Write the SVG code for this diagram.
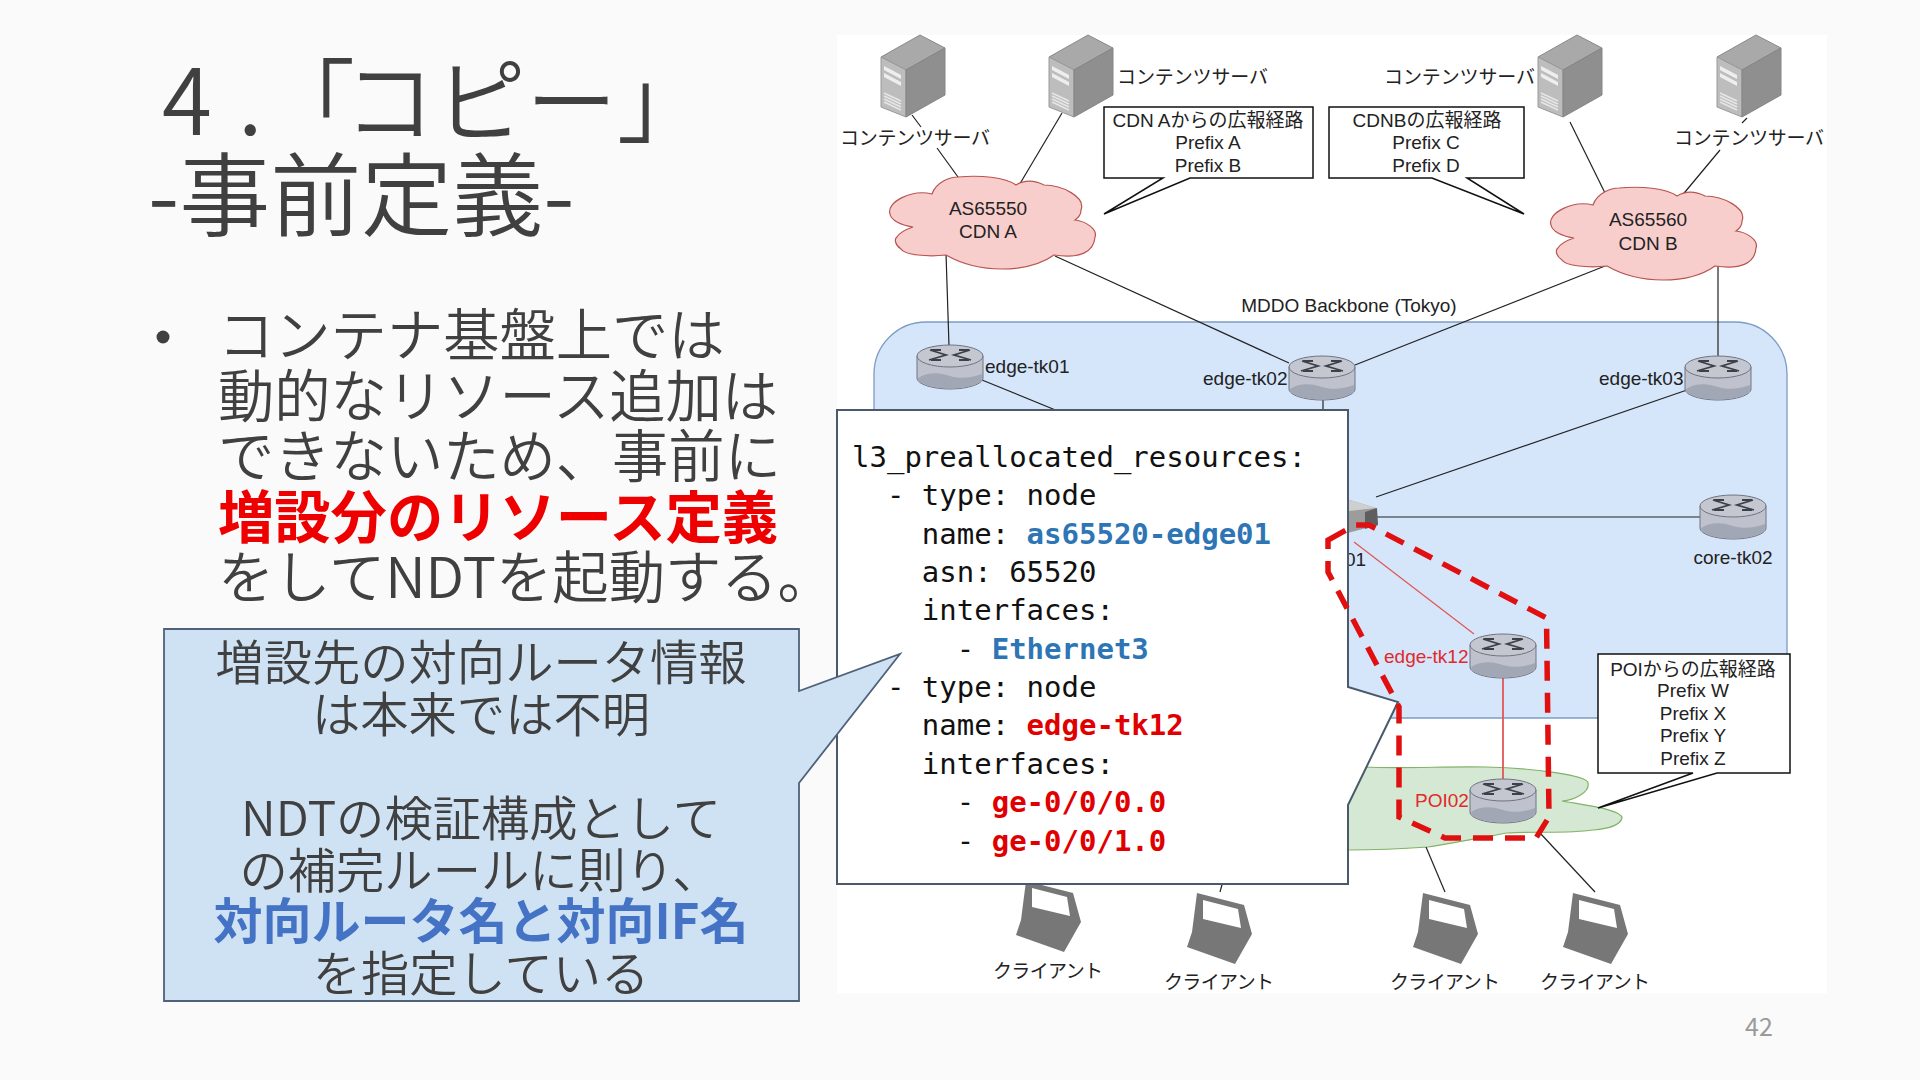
<svg xmlns="http://www.w3.org/2000/svg" width="1920" height="1080" viewBox="0 0 1920 1080">
<style>
text{font-family:"Noto Sans CJK JP","Noto Sans",sans-serif}
.t{fill:#404040;font-weight:350}
.title{font-size:91px}
.body{font-size:56.3px}
.co{font-size:48.3px;text-anchor:middle;fill:#404040;font-weight:350}
.d{font-family:"Liberation Sans","Noto Sans CJK JP",sans-serif;font-size:19px;fill:#222}
.m{text-anchor:middle}
.r{fill:#e02a2a}
.code{font-family:"DejaVu Sans Mono","Liberation Mono",monospace;font-size:29px;fill:#111;white-space:pre}
.b{font-weight:700;fill:#2e75b6}
.rd{font-weight:700;fill:#e00000}
.ln{fill:none;stroke:#222;stroke-width:1.2}
.rl{fill:none;stroke:#e25555;stroke-width:1.2}
.call{fill:#fff;stroke:#111;stroke-width:1.5}
.cloud{fill:#f8cecc;stroke:#b85450;stroke-width:1.2}
</style>
<defs>
<g id="server">
<polygon points="0,22 39,0 64,13 25,35" fill="#a9a9a9" stroke="#8a8a8a"/>
<polygon points="0,22 25,35 25,82 0,72" fill="#bdbdbd" stroke="#9a9a9a"/>
<polygon points="25,35 64,13 64,60 25,82" fill="#8f8f8f" stroke="#858585"/>
<polygon points="3,31 20,40 20,44 3,35" fill="#eee"/>
<polygon points="3,38 20,47 20,51 3,42" fill="#eee"/>
<path d="M3,58 20,66M3,61 20,69M3,64 20,72M3,67 20,75" stroke="#e6e6e6" stroke-width="1.6" fill="none"/>
</g>
<g id="router">
<path d="M0,11V33C0,39 15,44 33,44S66,39 66,33V11Z" fill="#bfc2cc" stroke="#6f7482"/>
<path d="M1,33C12,26 24,28 33,31S55,33 65,29V33C65,39 50,43.500 33,43.500S1,39 1,33Z" fill="#a2a7b6"/>
<ellipse cx="33" cy="11" rx="33" ry="11" fill="#c4c7d0" stroke="#6f7482"/>
<path d="M13,5 29,10 12,15 M53,5 37,10 54,15" stroke="#3c4048" stroke-width="1.800" fill="none"/>
<path d="M14,5H24M14,15H24M42,5H52M42,15H52" stroke="#3c4048" stroke-width="1.800" fill="none"/>
</g>
<g id="laptop">
<path d="M10,1 57,13 65,42 48,72 0,55 5,40Z" fill="#777"/>
<polygon points="16,8 51,17 54,36 16,27" fill="#fff"/>
</g>
<path id="cl" d="M0,37C-4,25 22,12 42,17C46,5 60,0 68,0C90,-2 115,0 126,8C136,2 146,4 154,8C172,8 196,20 191,33C191,38 188,41 185,43C195,44 208,52 205,60C204,75 190,82 164,78C150,88 130,92 112,92C90,92 70,86 56,78C38,80 14,78 11,72C5,68 4,62 7,60C10,55 17,52 23,50C10,48 1,43 0,37Z"/>
</defs>

<rect width="1920" height="1080" fill="#fafafa"/>
<rect id="panel" x="837" y="35" width="990" height="958" fill="#fff"/>

<g id="backbone">
<rect x="874" y="322" width="913" height="396" rx="52" fill="#d5e5fa" stroke="#7f9cc4" stroke-width="1.300"/>
<text class="d m" x="1349" y="312" font-size="19">MDDO Backbone (Tokyo)</text>
</g>
<g id="poi-cloud">
<path d="M1300,800C1320,780 1345,767 1365,767C1400,769 1450,766 1486,767C1530,768 1588,775 1588,783C1590,792 1575,800 1562,801C1590,806 1622,810 1622,818C1620,826 1605,829 1593,830C1565,834 1535,831 1507,833C1480,838 1455,843 1428,847C1400,849 1375,850 1348,850C1320,852 1295,830 1300,800Z" fill="#d5e8d4" stroke="#82b366" stroke-width="1.200"/>
</g>

<g id="connectors">
<path class="ln" d="M912,115 921,127M937,148 958,177"/>
<path class="ln" d="M1062,113 1018,187"/>
<path class="ln" d="M946,253 949,346"/>
<path class="ln" d="M1055,256 1289,363"/>
<path class="ln" d="M982,380 1075,418"/>
<path class="ln" d="M1323,399V430"/>
<path class="ln" d="M1570,122 1605,193"/>
<path class="ln" d="M1747,118 1742,123M1720,150 1680,198"/>
<path class="ln" d="M1605,266 1355,365"/>
<path class="ln" d="M1718,265V357"/>
<path class="ln" d="M1687,390 1376,497"/>
<path class="ln" stroke-width="1.600" d="M1376,517H1700"/>
<path class="rl" d="M1354,542 1474,634"/>
<path class="rl" style="stroke-width:1.800" d="M1503,678V779"/>
<path class="ln" d="M1426,847 1445,892"/>
<path class="ln" d="M1540,833 1595,892"/>
<path class="ln" d="M1226,870 1220,892"/>
</g>

<g id="server-1"><use href="#server" x="881" y="35"/><text class="d" x="840" y="145" textLength="150">コンテンツサーバ</text></g>
<g id="server-2"><use href="#server" x="1049" y="35"/><text class="d" x="1117" y="84" textLength="151">コンテンツサーバ</text></g>
<g id="server-3"><use href="#server" x="1538" y="35"/><text class="d" x="1384" y="84" textLength="151">コンテンツサーバ</text></g>
<g id="server-4"><use href="#server" x="1717" y="35"/><text class="d" x="1674" y="145" textLength="150">コンテンツサーバ</text></g>

<g id="cdn-a"><use href="#cl" class="cloud" x="890" y="177"/><text class="d m" x="988" y="215">AS65550</text><text class="d m" x="988" y="238">CDN A</text></g>
<g id="cdn-b"><use href="#cl" class="cloud" x="1551" y="188"/><text class="d m" x="1648" y="226">AS65560</text><text class="d m" x="1648" y="250">CDN B</text></g>

<g id="route-a">
<path class="call" d="M1104,107H1313V178H1190L1104,214 1163,178H1104Z"/>
<text class="d m" x="1208" y="127">CDN Aからの広報経路</text><text class="d m" x="1208" y="149">Prefix A</text><text class="d m" x="1208" y="172">Prefix B</text>
</g>
<g id="route-b">
<path class="call" d="M1329,107H1524V178H1467L1524,214 1432,178H1329Z"/>
<text class="d m" x="1427" y="127">CDNBの広報経路</text><text class="d m" x="1426" y="149">Prefix C</text><text class="d m" x="1426" y="172">Prefix D</text>
</g>
<g id="route-poi">
<path class="call" d="M1598,654H1790V773H1717L1598,808 1693,773H1598Z"/>
<text class="d m" x="1693" y="676">POIからの広報経路</text><text class="d m" x="1693" y="697">Prefix W</text><text class="d m" x="1693" y="720">Prefix X</text><text class="d m" x="1693" y="742">Prefix Y</text><text class="d m" x="1693" y="765">Prefix Z</text>
</g>

<g id="edge-tk01"><use href="#router" x="917" y="345"/><text class="d" x="985" y="373">edge-tk01</text></g>
<g id="edge-tk02"><use href="#router" x="1289" y="356"/><text class="d" x="1203" y="385">edge-tk02</text></g>
<g id="edge-tk03"><use href="#router" x="1685" y="356"/><text class="d" x="1599" y="385">edge-tk03</text></g>
<g id="core-tk02"><use href="#router" x="1700" y="495"/><text class="d m" x="1733" y="564">core-tk02</text></g>
<g id="edge-tk12"><use href="#router" x="1470" y="634"/><text class="d r" x="1384" y="663">edge-tk12</text></g>
<g id="poi02"><use href="#router" x="1470" y="779"/><text class="d r" x="1415" y="807">POI02</text></g>
<g id="core-tk01">
<polygon points="1340,497 1376,508 1378,525 1340,535" fill="#9c9c9c"/>
<polygon points="1340,497 1376,508 1358,510 1340,512" fill="#cfcfcf"/>
<polygon points="1365,512 1377,508 1378,525 1365,529" fill="#5e5e5e"/>
<text class="d" x="1345" y="566">01</text>
</g>

<g id="client-1"><use href="#laptop" x="1016" y="880"/><text class="d m" x="1048" y="978" textLength="110">クライアント</text></g>
<g id="client-2"><use href="#laptop" x="1187" y="892"/><text class="d m" x="1219" y="989" textLength="110">クライアント</text></g>
<g id="client-3"><use href="#laptop" x="1413" y="892"/><text class="d m" x="1445" y="989" textLength="110">クライアント</text></g>
<g id="client-4"><use href="#laptop" x="1563" y="892"/><text class="d m" x="1595" y="989" textLength="110">クライアント</text></g>

<g id="code-box">
<path d="M837,410H1348V687L1398,702 1348,805V884H837Z" fill="#fff" stroke="#4a5a6a" stroke-width="2"/>
<text class="code" xml:space="preserve" x="852" y="467">l3_preallocated_resources:</text>
<text class="code" xml:space="preserve" x="852" y="505">  - type: node</text>
<text class="code" xml:space="preserve" x="852" y="544">    name: <tspan class="b">as65520-edge01</tspan></text>
<text class="code" xml:space="preserve" x="852" y="582">    asn: 65520</text>
<text class="code" xml:space="preserve" x="852" y="620">    interfaces:</text>
<text class="code" xml:space="preserve" x="852" y="659">      - <tspan class="b">Ethernet3</tspan></text>
<text class="code" xml:space="preserve" x="852" y="697">  - type: node</text>
<text class="code" xml:space="preserve" x="852" y="735">    name: <tspan class="rd">edge-tk12</tspan></text>
<text class="code" xml:space="preserve" x="852" y="774">    interfaces:</text>
<text class="code" xml:space="preserve" x="852" y="812">      - <tspan class="rd">ge-0/0/0.0</tspan></text>
<text class="code" xml:space="preserve" x="852" y="851">      - <tspan class="rd">ge-0/0/1.0</tspan></text>
</g>

<g id="highlight">
<path d="M1328,540 1355,525 1369,525 1546.500,618 1549,817 1536,838 1445,838 1399,817V707L1328,572Z" fill="none" stroke="#e01010" stroke-width="5.500" stroke-dasharray="20 12"/>
</g>

<g id="title">
<text class="t title" y="135" x="162 238 264 344 435 526 617">4.「コピー」</text>
<text class="t title" y="229" x="148">-事前定義-</text>
</g>
<g id="bullets">
<circle cx="163" cy="337" r="6.500" fill="#404040"/>
<text class="t body" x="218" y="356">コンテナ基盤上では</text>
<text class="t body" x="218" y="417">動的なリソース追加は</text>
<text class="t body" x="218" y="477">できないため、事前に</text>
<text class="t body" x="218" y="538" style="font-weight:700;fill:#ee0000">増設分のリソース定義</text>
<text class="t body" x="218" y="598">をしてNDTを起動する。</text>
</g>
<g id="note">
<path d="M164,629H799V691L900,654 799,783V1001H164Z" fill="#cfe2f3" stroke="#4f6179" stroke-width="1.800"/>
<text class="co" x="481" y="680">増設先の対向ルータ情報</text>
<text class="co" x="481" y="732">は本来では不明</text>
<text class="co" x="481" y="836">NDTの検証構成として</text>
<text class="co" x="480" y="888">の補完ルールに則り、</text>
<text class="co" x="481" y="939" style="font-weight:700;fill:#4472c4;font-size:49px">対向ルータ名と対向IF名</text>
<text class="co" x="481" y="991">を指定している</text>
</g>
<text id="page" x="1759" y="1036" font-size="25" text-anchor="middle" fill="#9a9a9a">42</text>
</svg>
